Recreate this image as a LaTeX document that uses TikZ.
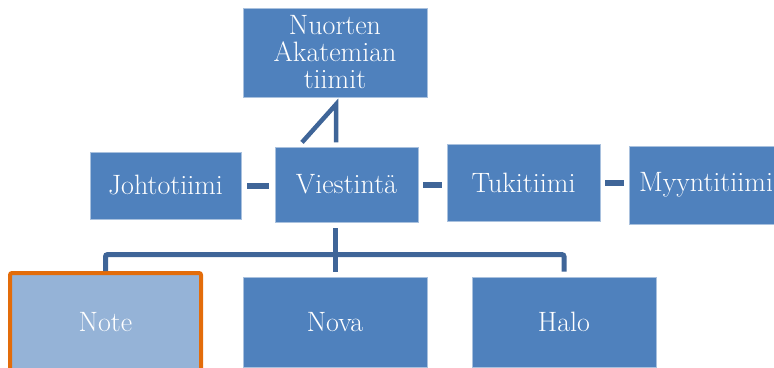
\documentclass[tikz,border=0pt]{standalone}
\usepackage{tikz}
\usetikzlibrary{calc}
\definecolor{boxblue}{HTML}{4F81BD}
\definecolor{paleblue}{HTML}{95B3D7}
\definecolor{lineblue}{HTML}{3F6598}
\definecolor{edgeblue}{HTML}{A9C1DE}
\definecolor{selorange}{HTML}{E36C0A}
\tikzset{
  team/.style={draw=edgeblue,line width=0.8pt,fill=boxblue,text=white,align=center,
    inner sep=0pt,font=\fontsize{28}{27}\selectfont},
  link/.style={draw=lineblue,line width=6pt},
}

\begin{document}
\begin{tikzpicture}[x=1pt,y=-1pt]
\useasboundingbox (0,0) rectangle (774,367);
\clip (0,0) rectangle (774,367);
    \node[team,minimum width=184pt,minimum height=89pt] (nat) at (335,52.5) {Nuorten\\Akatemian\\tiimit};
    \node[team,minimum width=151pt,minimum height=67pt] (johto) at (165.5,185.5) {Johtotiimi};
    \node[team,minimum width=143pt,minimum height=75pt] (viest) at (346.5,184.5) {Viestintä};
    \node[team,minimum width=153pt,minimum height=77pt] (tuki) at (523.5,182.5) {Tukitiimi};
    \node[team,minimum width=154pt,minimum height=78pt] (myynti) at (706,185) {Myyntitiimi};
    \node[team,fill=paleblue,draw=selorange,line width=4pt,rounded corners=2pt,
      minimum width=191pt,minimum height=98pt] (note) at (105.5,322) {Note};
    \node[team,minimum width=184pt,minimum height=90pt] (nova) at (335,322) {Nova};
    \node[team,minimum width=184pt,minimum height=90pt] (halo) at (564,322) {Halo};
    % rivin viivat
    \draw[link,shorten <=6pt,shorten >=6pt] (johto.east) -- (johto.east -| viest.west);
    \draw[link,shorten <=5pt,shorten >=5pt] (viest.east) -- (viest.east -| tuki.west);
    \draw[link,shorten <=5pt,shorten >=5pt] (tuki.east) -- (tuki.east -| myynti.west);
    % ylos
    \draw[link,line width=4.5pt] ($(nat.south)+(-33,45)$) -- ($(nat.south)+(1,7)$) -- ++(0,38);
    % alas
    \draw[link,line width=5pt] ([yshift=-6pt]viest.south -| nova.north) -- ([yshift=5pt]nova.north);
    \draw[link,line width=5pt,rounded corners=2pt] (note.north) |- ($(nova.north)+(0,-22)$) -| ([yshift=5pt]halo.north);
\end{tikzpicture}
\end{document}
